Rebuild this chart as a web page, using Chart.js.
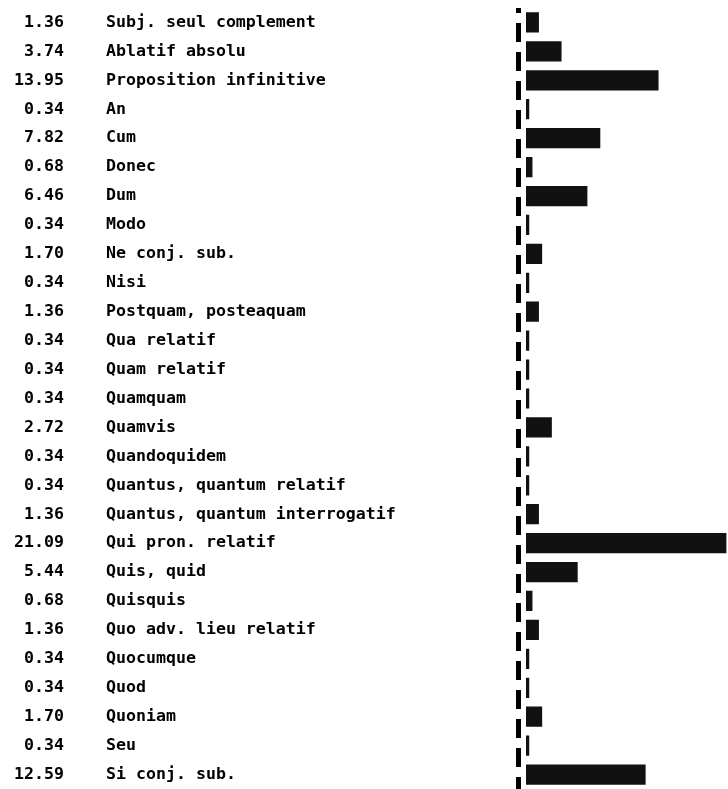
<!DOCTYPE html>
<html>
<head>
<meta charset="utf-8">
<script src="https://cdn.jsdelivr.net/npm/chart.js@4/dist/chart.umd.min.js"></script>
<style>
  html, body { margin: 0; padding: 0; background: #fff; }
  #wrap { width: 728px; height: 789px; position: relative; }
</style>
</head>
<body>
<div id="wrap"><canvas id="chart"></canvas></div>
<script>
// Categories (constructions) and their share in percent
const categories = [
    'Subj. seul complement', 'Ablatif absolu', 'Proposition infinitive', 'An', 'Cum',
    'Donec', 'Dum', 'Modo', 'Ne conj. sub.', 'Nisi',
    'Postquam, posteaquam', 'Qua relatif', 'Quam relatif', 'Quamquam', 'Quamvis',
    'Quandoquidem', 'Quantus, quantum relatif', 'Quantus, quantum interrogatif',
    'Qui pron. relatif', 'Quis, quid', 'Quisquis', 'Quo adv. lieu relatif',
    'Quocumque', 'Quod', 'Quoniam', 'Seu', 'Si conj. sub.'
];
const percents = [
    1.36, 3.74, 13.95, 0.34, 7.82,
    0.68, 6.46, 0.34, 1.70, 0.34,
    1.36, 0.34, 0.34, 0.34, 2.72,
    0.34, 0.34, 1.36,
    21.09, 5.44, 0.68, 1.36,
    0.34, 0.34, 1.70, 0.34, 12.59
];
// Printed value column, two decimals
const valueLabels = percents.map(v => v.toFixed(2));

const printFont = { family: "'DejaVu Sans Mono', 'Liberation Mono', monospace", size: 16.6, weight: 'bold' };

// dashed vertical axis line along the left edge of the plot
const dashedAxis = {
    id: 'dashedAxis',
    afterDatasetsDraw(chart) {
        const { ctx, chartArea } = chart;
        ctx.save();
        ctx.strokeStyle = '#000';
        ctx.lineWidth = 5;
        ctx.setLineDash([19, 10]);
        ctx.lineDashOffset = 14;
        ctx.beginPath();
        ctx.moveTo(chartArea.left, chartArea.top);
        ctx.lineTo(chartArea.left, chartArea.bottom);
        ctx.stroke();
        ctx.restore();
    }
};

// no extra room for half tick labels above/below the plot
function noPad(scale) {
    scale.paddingTop = 0;
    scale.paddingBottom = 0;
}

const ctx = document.getElementById('chart').getContext('2d');
new Chart(ctx, {
    type: 'bar',
    data: {
        labels: categories,
        datasets: [{
            data: percents,
            backgroundColor: '#111',
            borderWidth: 0,
            barPercentage: 0.7,
            categoryPercentage: 1.0,
            yAxisID: 'y'
        }]
    },
    plugins: [dashedAxis],
    options: {
        indexAxis: 'y',
        responsive: true,
        maintainAspectRatio: false,
        animation: false,
        layout: { padding: { top: 8, bottom: 0, left: 0, right: 0 } },
        plugins: {
            legend: { display: false },
            tooltip: { enabled: false }
        },
        scales: {
            x: {
                display: false,
                min: -0.79,
                max: 21.26
            },
            // names column, left aligned
            y: {
                type: 'category',
                position: 'left',
                weight: 1,
                offset: true,
                grid: { display: false, drawTicks: false },
                border: { display: false },
                ticks: {
                    crossAlign: 'far',
                    autoSkip: false,
                    color: '#000',
                    font: printFont,
                    padding: 0
                },
                afterFit: function(scale) { scale.width = 412.5; noPad(scale); }
            },
            // value column, right aligned
            yValues: {
                type: 'category',
                position: 'left',
                weight: 2,
                offset: true,
                labels: valueLabels,
                grid: { display: false, drawTicks: false, offset: true },
                border: { display: false },
                ticks: {
                    crossAlign: 'near',
                    autoSkip: false,
                    color: '#000',
                    font: printFont,
                    padding: 42
                },
                afterFit: function(scale) { scale.width = 106; noPad(scale); }
            }
        }
    }
});
</script>
</body>
</html>
